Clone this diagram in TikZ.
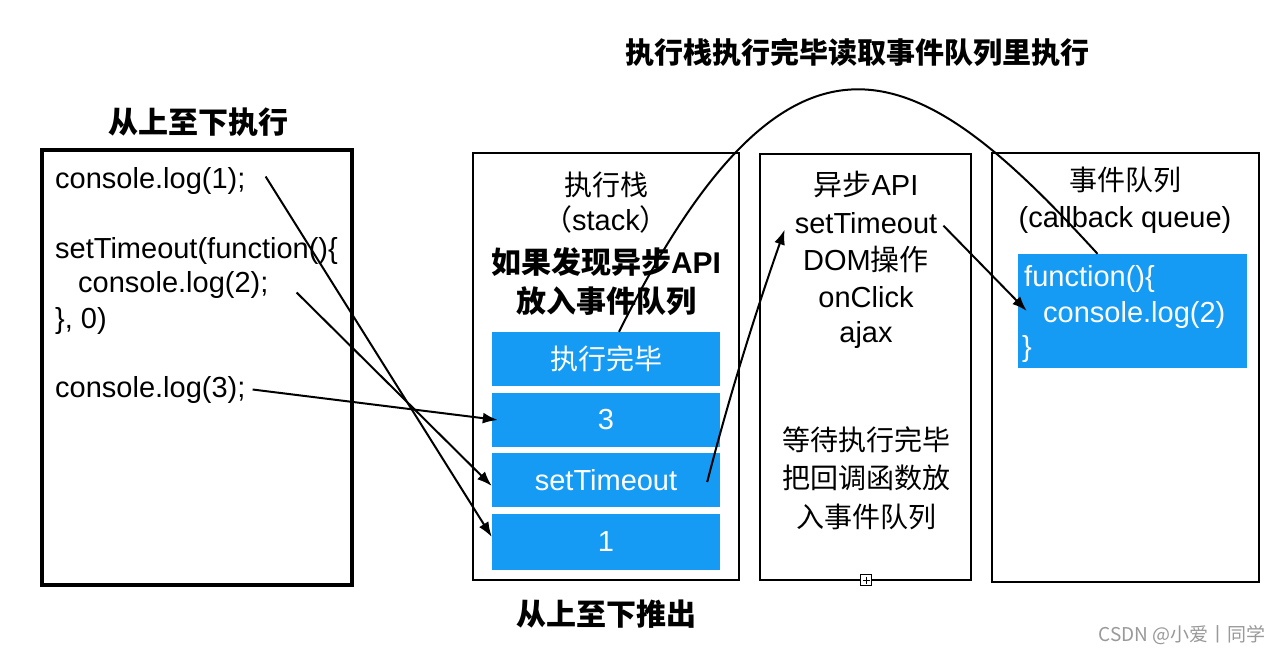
\documentclass[tikz,border=0pt]{standalone}
\usepackage{fontspec}
\setmainfont{Liberation Sans}
\newfontfamily\cjk{Noto Sans CJK SC}
\usetikzlibrary{arrows.meta}
\definecolor{qblue}{RGB}{22,155,245}
\begin{document}
\begin{tikzpicture}[x=1pt,y=-1pt,
  frame/.style={draw, line width=2.4pt, inner sep=0pt},
  blk/.style={fill=qblue, text=white, inner sep=0pt, minimum width=228pt, font=\fontsize{29}{34}\selectfont},
  lt/.style={inner sep=0pt, anchor=base, font=\fontsize{29}{34}\selectfont},
  ltw/.style={inner sep=0pt, anchor=base west, font=\fontsize{29}{34}\selectfont},
  cj/.style={inner sep=0pt, anchor=base, font=\cjk\fontsize{28}{34}\selectfont},
  ttl/.style={inner sep=0pt, anchor=base, font=\cjk\bfseries\fontsize{30}{36}\selectfont},
  arr/.style={line width=2pt, -{Latex[length=15pt,width=11pt]}},
  link/.style={line width=2pt}
]
\useasboundingbox (0,0) rectangle (1280,653);
\fill[white] (0,0) rectangle (1280,653);

% titles
\node[ttl] (t1) at (198,133) {从上至下执行};
\node[ttl, font=\cjk\bfseries\fontsize{29}{34}\selectfont] (t2) at (857,63) {执行栈执行完毕读取事件队列里执行};
\node[ttl] (t3) at (606,625) {从上至下推出};

% frames
\node[frame, line width=3.2pt, minimum width=310pt, minimum height=435pt] (code) at (197,367.5) {};
\node[frame, line width=2pt, minimum width=266pt, minimum height=427pt] (stack) at (606,366.5) {};
\node[frame, minimum width=211pt, minimum height=426pt] (async) at (865.5,367) {};
\node[frame, minimum width=267pt, minimum height=429pt] (queue) at (1125.5,367.5) {};

% code
\node[ltw] (c1) at (55,188) {console.log(1);};
\node[ltw] (c2) at (55,258) {setTimeout(function()\{};
\node[ltw] (c3) at (78,292) {console.log(2);};
\node[ltw] (c4) at (55,328) {\}, 0)};
\node[ltw] (c5) at (55,397) {console.log(3);};

% stack
\node[cj] (s1) at (606,195) {执行栈};
\node[lt] (s2) at (606,230) {{\cjk （}stack{\cjk ）}};
\node[lt, font=\bfseries\fontsize{30}{36}\selectfont] (s3) at (606,273) {{\cjk 如果发现异步}API};
\node[ttl] (s4) at (606,312) {放入事件队列};
\node[blk, minimum height=54pt, font=\cjk\fontsize{28}{34}\selectfont] (bdone) at (606,359) {执行完毕};
\node[blk, minimum height=54pt] (b3) at (606,420) {3};
\node[blk, minimum height=54pt] (bs) at (606,480) {setTimeout};
\node[blk, minimum height=56pt] (b1) at (606,542) {1};

% async
\node[lt] (a1) at (866,195) {{\cjk 异步}API};
\node[lt] (a2) at (866,233) {setTimeout};
\node[lt] (a3) at (866,270) {DOM{\cjk 操作}};
\node[lt] (a4) at (866,307) {onClick};
\node[lt] (a5) at (866,342) {ajax};
\node[cj] (a6) at (866,450) {等待执行完毕};
\node[cj] (a7) at (866,488) {把回调函数放};
\node[cj] (a8) at (866,527) {入事件队列};
\node[draw, fill=white, line width=0.7pt, minimum size=11pt, inner sep=0pt] (pl) at (866,580) {};
\draw[line width=0.7pt] ([yshift=3.5pt]pl.center) -- ([yshift=-3.5pt]pl.center)
  ([xshift=-3.5pt]pl.center) -- ([xshift=3.5pt]pl.center);

% queue
\node[cj] (q1) at (1125,190) {事件队列};
\node[lt] (q2) at (1125,227) {(callback queue)};
\node[blk, minimum width=229pt, minimum height=114pt] (qb) at (1132.5,311) {};
\node[ltw, text=white] (q3) at (1024,286) {function()\{};
\node[ltw, text=white] (q4) at (1043,322) {console.log(2)};
\node[ltw, text=white] (q5) at (1022,356) {\}};

% watermark
\node[anchor=base east, inner sep=0pt, text=black!40, font=\cjk\fontsize{19}{22}\selectfont] (wm) at (1266,641) {CSDN @小爱丨同学};

% connectors
\draw[arr] ([xshift=20pt,yshift=4pt]c1.east) -- ([yshift=5pt]b1.west);
\draw[arr] ([xshift=28pt,yshift=-8pt]c3.east) -- ([yshift=-6pt]bs.west);
\draw[arr] ([xshift=7pt]c5.east) -- ([xshift=6pt]b3.west);
\draw[arr] ([xshift=-13pt,yshift=-2pt]bs.east) .. controls (729,397) and (755,314) .. ([xshift=-10pt,yshift=-7pt]a2.west);
\draw[arr] ([xshift=6pt,yshift=-3pt]a2.east) -- ([xshift=9pt]qb.west);
\draw[link] ([xshift=13pt]bdone.north) .. controls (796,-22) and (925,65) .. ([xshift=-35pt]qb.north);
\end{tikzpicture}
\end{document}
